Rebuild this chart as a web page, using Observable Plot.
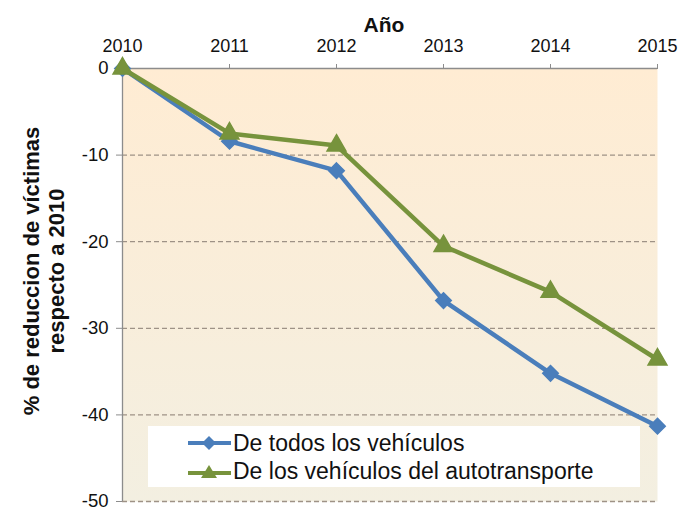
<!DOCTYPE html>
<html>
<head>
<meta charset="utf-8">
<script src="https://cdn.jsdelivr.net/npm/d3@7"></script>
<script src="https://cdn.jsdelivr.net/npm/@observablehq/plot@0.6"></script>
<style>
  html, body { margin: 0; padding: 0; background: #fff; }
  #wrap { position: relative; width: 681px; height: 510px; font-family: "Liberation Sans", Arial, sans-serif; }
  #legend { position: absolute; left: 148px; top: 426px; width: 492px; height: 61px; background: #fff; font-size: 23px; color: #111; }
  .item { position: absolute; left: 40px; display: flex; align-items: center; height: 26px; white-space: nowrap; }
  .item svg { margin-right: 1px; }
</style>
</head>
<body>
<div id="wrap"></div>
<script>
const years = [2010, 2011, 2012, 2013, 2014, 2015];
const todos = [0, -8.4, -11.8, -26.8, -35.2, -41.3];
const autotransporte = [0, -7.5, -8.9, -20.5, -25.8, -33.6];
const seriesNames = ["De todos los vehículos", "De los vehículos del autotransporte"];
const seriesColors = ["#4a7ebb", "#77933c"];
const yTicks = [0, -10, -20, -30, -40, -50];
const gridTicks = [-10, -20, -30, -40, -50];

const data = [];
years.forEach((y, i) => {
  data.push({year: y, value: todos[i], series: seriesNames[0]});
  data.push({year: y, value: autotransporte[i], series: seriesNames[1]});
});
const dTodos = data.filter(d => d.series === seriesNames[0]);
const dAuto = data.filter(d => d.series === seriesNames[1]);

const chart = Plot.plot({
  width: 681,
  height: 510,
  marginTop: 68,
  marginLeft: 122,
  marginRight: 24,
  marginBottom: 9,
  style: {fontFamily: "'Liberation Sans', Arial, sans-serif", fontSize: "18px", color: "#111", background: "transparent"},
  x: {domain: [2010, 2015]},
  y: {domain: [-50, 0]},
  marks: [
    Plot.frame({fill: "url(#bggrad)", stroke: "none"}),
    Plot.ruleY(gridTicks, {stroke: "#9e9286", strokeWidth: 1.3, strokeDasharray: "5,3"}),
    Plot.ruleX([2010], {stroke: "#8c8c8c", strokeWidth: 1.3}),
    Plot.ruleY([0], {stroke: "#8c8c8c", strokeWidth: 1.3}),
    Plot.axisX({anchor: "top", ticks: years, tickFormat: d => String(d), tickSize: 5, tickPadding: 12, label: null, stroke: "#8c8c8c", fontSize: 18}),
    Plot.axisY({anchor: "left", ticks: yTicks, tickFormat: d => String(d), tickSize: 6, tickPadding: 8, label: null, stroke: "#8c8c8c", fontSize: 18.5}),
    Plot.text(["Año"], {frameAnchor: "top", dx: -6, dy: -51, fontWeight: "bold", fontSize: 21}),
    Plot.text(["% de reduccion de víctimas\nrespecto a 2010"], {frameAnchor: "left", dx: -79, dy: -14, rotate: -90, fontWeight: "bold", fontSize: 22, lineHeight: 1.12, textAnchor: "middle"}),
    Plot.line(dTodos, {x: "year", y: "value", stroke: seriesColors[0], strokeWidth: 4.5}),
    Plot.line(dAuto, {x: "year", y: "value", stroke: seriesColors[1], strokeWidth: 4.5}),
    Plot.dot(dTodos, {x: "year", y: "value", symbol: "diamond2", r: 7, fill: seriesColors[0], stroke: seriesColors[0]}),
    Plot.dot(dAuto, {x: "year", y: "value", symbol: "triangle", r: 7, fill: seriesColors[1], stroke: seriesColors[1]})
  ]
});

const defs = document.createElementNS("http://www.w3.org/2000/svg", "defs");
defs.innerHTML = '<linearGradient id="bggrad" x1="0" y1="0" x2="0" y2="1"><stop offset="0" stop-color="#ffecd3"/><stop offset="1" stop-color="#f3efe1"/></linearGradient>';
chart.insertBefore(defs, chart.firstChild);

const wrap = document.getElementById("wrap");
wrap.appendChild(chart);

const legend = document.createElement("div");
legend.id = "legend";
const markers = [
  '<path d="M0,10 H43" stroke="' + seriesColors[0] + '" stroke-width="4"/><path d="M21,3 L28,10 L21,17 L14,10 Z" fill="' + seriesColors[0] + '"/>',
  '<path d="M0,12 H43" stroke="' + seriesColors[1] + '" stroke-width="4"/><path d="M21,4 L29,17 L13,17 Z" fill="' + seriesColors[1] + '"/>'
];
seriesNames.forEach((name, i) => {
  const it = document.createElement("div");
  it.className = "item";
  it.style.top = (4 + i * 28) + "px";
  it.innerHTML = '<svg width="44" height="20">' + markers[i] + '</svg><span>' + name + '</span>';
  legend.appendChild(it);
});
wrap.appendChild(legend);
</script>
</body>
</html>
